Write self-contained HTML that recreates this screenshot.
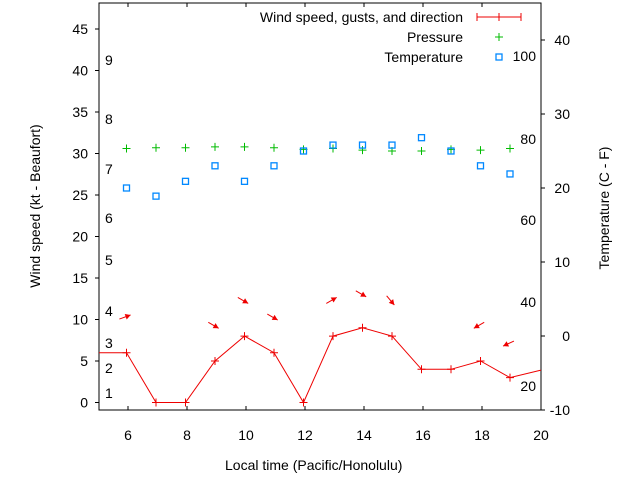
<!DOCTYPE html>
<html><head><meta charset="utf-8"><style>
body{margin:0;background:#fff}
svg{display:block;font-family:"Liberation Sans",sans-serif;font-size:14px}
</style></head><body>
<svg id="c" width="640" height="480" viewBox="0 0 640 480">
<rect x="99" y="3" width="442" height="407" fill="none" stroke="#000"/>
<g id="axes"></g><g id="marks"></g>
<text x="225" y="470">Local time (Pacific/Honolulu)</text>
<text transform="translate(40,206) rotate(-90)" text-anchor="middle">Wind speed (kt - Beaufort)</text>
<text transform="translate(609,208) rotate(-90)" text-anchor="middle">Temperature (C - F)</text>
<g>
<text x="463" y="22" text-anchor="end">Wind speed, gusts, and direction</text>
<line x1="477" y1="17" x2="521" y2="17" stroke="#e00" stroke-width="1"/><line x1="477" y1="13" x2="477" y2="21" stroke="#e00"/><line x1="521" y1="13" x2="521" y2="21" stroke="#e00"/><line x1="499" y1="13" x2="499" y2="21" stroke="#e00"/>
<text x="463" y="42" text-anchor="end">Pressure</text>
<path d="M495 37h8M499 33v8" stroke="#0b0"/>
<text x="463" y="62" text-anchor="end">Temperature</text>
<rect x="496" y="54" width="6" height="6" fill="none" stroke="#08f" stroke-width="1.3"/>
</g>
</svg>
<script>
const hours=[6,7,8,9,10,11,12,13,14,15,16,17,18,19];
const wind=[6,0,0,5,8,6,0,8,9,8,4,4,5,3];
const pressure=[30.6,30.7,30.7,30.8,30.8,30.7,30.5,30.6,30.4,30.3,30.3,30.5,30.4,30.6];
const tempC=[20,18.9,20.9,23,20.9,23,25,25.8,25.8,25.8,26.8,25,23,21.9];
const arrowHours=[6,9,10,11,13,14,15,18,19];
const arrowKt=[10.3,9.3,12.3,10.3,12.3,13.1,12.3,9.3,7.1];
const arrowDeg=[250,300,300,300,240,300,320,60,65];
const xTicks=[6,8,10,12,14,16,18,20];
const yTicks=[0,5,10,15,20,25,30,35,40,45];
const y2Ticks=[-10,0,10,20,30,40];
const NS='http://www.w3.org/2000/svg';
const X=h=>128+(h-6)*29.5;
const Y=v=>402.5-v*8.3;
const Y2=c=>336-c*7.4;
const ax=document.getElementById('axes'),mk=document.getElementById('marks');
function el(p,t,a){const e=document.createElementNS(NS,t);for(const k in a)e.setAttribute(k,a[k]);p.appendChild(e);return e;}
xTicks.forEach(h=>{el(ax,'line',{x1:X(h),x2:X(h),y1:410,y2:406,stroke:'#000'});el(ax,'line',{x1:X(h),x2:X(h),y1:3,y2:7,stroke:'#000'});
const t=el(ax,'text',{x:X(h),y:440,'text-anchor':'middle'});t.textContent=h;

});
yTicks.forEach(v=>{el(ax,'line',{x1:95,x2:99,y1:Y(v),y2:Y(v),stroke:'#000'});
const t=el(ax,'text',{x:88,y:Y(v)+5,'text-anchor':'end'});t.textContent=v;

});
y2Ticks.forEach(v=>{el(ax,'line',{x1:541,x2:545,y1:Y2(v),y2:Y2(v),stroke:'#000'});
const t=el(ax,'text',{x:570,y:Y2(v)+5,'text-anchor':'end'});t.textContent=v;

});
[[1,393],[2,368],[3,343],[4,311],[5,260],[6,218],[7,169],[8,119],[9,60]].forEach(([b,y])=>{const t=el(ax,'text',{x:105,y:y+5});t.textContent=b;

});
[[20,386],[40,302],[60,220],[80,139],[100,56]].forEach(([f,y])=>{const t=el(ax,'text',{x:536,y:y+5,'text-anchor':'end'});t.textContent=f;

});
let d='M99 '+Y(wind[0]);hours.forEach((h,i)=>d+=' L'+(X(h)-1.5)+' '+Y(wind[i]));d+=' L541 '+Y(3.9);
const ln=el(mk,'path',{d:d,fill:'none',stroke:'#e00'});


hours.forEach((h,i)=>{const x=X(h)-1.5,y=Y(wind[i]);const p=el(mk,'path',{d:`M${x-4} ${y}h8M${x} ${y-4}v8`,stroke:'#e00'});

});
hours.forEach((h,i)=>{const x=X(h)-1.5,y=Y(pressure[i]);const p=el(mk,'path',{d:`M${x-4} ${y}h8M${x} ${y-4}v8`,stroke:'#0b0'});

});
hours.forEach((h,i)=>{const x=X(h)-1.5,y=Y2(tempC[i]);const r=el(mk,'rect',{x:x-3,y:y-3,width:6,height:6,fill:'none',stroke:'#08f','stroke-width':1.3});

});
arrowHours.forEach((h,i)=>{const cx=X(h)-3,cy=Y(arrowKt[i]);const a=(arrowDeg[i]+90)*Math.PI/180;
const dx=Math.cos(a)*6,dy=Math.sin(a)*6;const x2=cx+dx,y2=cy+dy;const ang=Math.atan2(dy,dx);
const g=el(mk,'g',{});


el(g,'line',{x1:cx-dx,y1:cy-dy,x2:x2,y2:y2,stroke:'#e00'});
const p1=[x2-Math.cos(ang-0.5)*6,y2-Math.sin(ang-0.5)*6],p2=[x2-Math.cos(ang+0.5)*6,y2-Math.sin(ang+0.5)*6];
el(g,'polygon',{points:`${x2},${y2} ${p1} ${p2}`,fill:'#e00'});});
</script>
</body></html>
